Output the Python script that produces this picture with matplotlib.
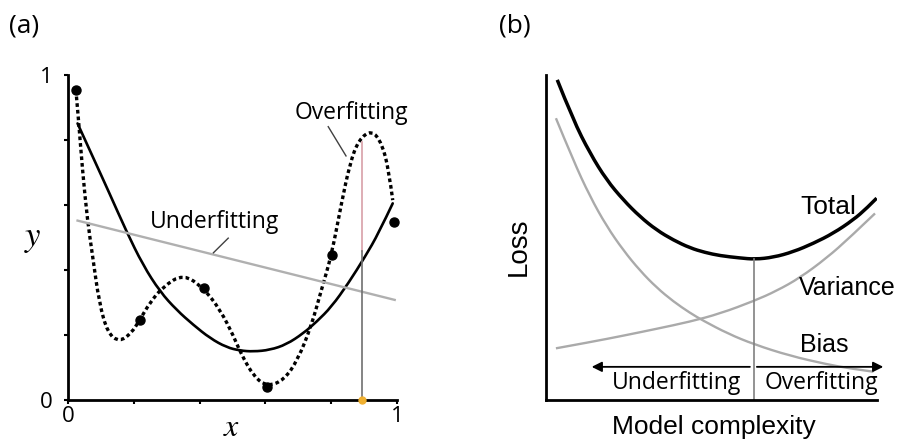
import numpy as np
import matplotlib
matplotlib.use('Agg')
import matplotlib.pyplot as plt
from matplotlib.path import Path
from matplotlib.patches import PathPatch

plt.rcParams['mathtext.fontset'] = 'stix'

# (a) sample points and the three fitted curves
pts_x = [0.024, 0.218, 0.412, 0.606, 0.801, 0.990]
pts_y = [0.954, 0.246, 0.344, 0.041, 0.446, 0.549]

under_x = [0.029, 0.993]
under_y = [0.552, 0.308]

good_x = [0.029, 0.075, 0.126, 0.177, 0.228, 0.280, 0.330, 0.381, 0.432, 0.482,
          0.523, 0.563, 0.614, 0.664, 0.715, 0.756, 0.801, 0.852, 0.903, 0.944, 0.987]
good_y = [0.851, 0.749, 0.636, 0.520, 0.415, 0.333, 0.277, 0.231, 0.190, 0.162,
          0.152, 0.149, 0.154, 0.171, 0.205, 0.241, 0.287, 0.359, 0.441, 0.513, 0.605]

over_x = [0.024, 0.032, 0.044, 0.059, 0.075, 0.095, 0.121, 0.156, 0.192, 0.218,
          0.248, 0.289, 0.351, 0.412, 0.463, 0.504, 0.525, 0.565, 0.606, 0.657,
          0.698, 0.739, 0.770, 0.801, 0.831, 0.857, 0.883, 0.923, 0.954, 0.975, 0.987]
over_y = [0.954, 0.862, 0.708, 0.554, 0.441, 0.298, 0.205, 0.179, 0.205, 0.246,
          0.298, 0.349, 0.388, 0.344, 0.277, 0.195, 0.144, 0.072, 0.041, 0.062,
          0.123, 0.226, 0.338, 0.446, 0.605, 0.728, 0.800, 0.831, 0.790, 0.708, 0.615]

x_query = 0.894
y_query_over = 0.795
y_query_good = 0.460

# (b) loss versus model complexity
cx_total = [0.034, 0.082, 0.133, 0.183, 0.234, 0.284, 0.334, 0.385, 0.435, 0.480,
            0.526, 0.586, 0.631, 0.687, 0.747, 0.808, 0.868, 0.928, 0.969, 0.999]
total = [0.985, 0.862, 0.759, 0.677, 0.615, 0.564, 0.523, 0.492, 0.468, 0.454,
         0.444, 0.437, 0.433, 0.439, 0.456, 0.482, 0.513, 0.554, 0.590, 0.621]

cx_bias = [0.030, 0.082, 0.133, 0.183, 0.234, 0.284, 0.334, 0.385, 0.435, 0.475,
           0.550, 0.629, 0.737, 0.848, 0.918, 0.989]
bias = [0.867, 0.738, 0.626, 0.535, 0.460, 0.398, 0.346, 0.303, 0.268, 0.244,
        0.204, 0.171, 0.136, 0.110, 0.097, 0.087]

cx_var = [0.030, 0.133, 0.234, 0.334, 0.435, 0.526, 0.629, 0.697, 0.767, 0.848,
          0.918, 0.994]
variance = [0.159, 0.178, 0.198, 0.219, 0.241, 0.266, 0.305, 0.336, 0.376, 0.437,
            0.500, 0.574]

best_x = 0.628
best_loss = 0.433

W, H = 900, 443
fig = plt.figure(figsize=(W / 100, H / 100), dpi=100)


def px_axes(x0, y0, x1, y1):
    return fig.add_axes([x0 / W, 1 - y1 / H, (x1 - x0) / W, (y1 - y0) / H])


def smooth_line(ax, xs, ys, **kw):
    # quadratic bezier through the midpoints, the listed points act as control points
    xs, ys = np.asarray(xs), np.asarray(ys)
    verts = [(xs[0], ys[0])]
    codes = [Path.MOVETO]
    for i in range(1, len(xs) - 1):
        mx, my = (xs[i] + xs[i + 1]) / 2, (ys[i] + ys[i + 1]) / 2
        if i == len(xs) - 2:
            mx, my = xs[-1], ys[-1]
        verts += [(xs[i], ys[i]), (mx, my)]
        codes += [Path.CURVE3, Path.CURVE3]
    patch = PathPatch(Path(verts, codes), fill=False, **kw)
    ax.add_patch(patch)
    return patch


label_font = 'Open Sans'
sans = 'Liberation Sans'

# ---- panel (a) ----
ax = px_axes(68, 75, 397, 400)
ax.set_xlim(0, 1)
ax.set_ylim(0, 1)
for s in ['top', 'right']:
    ax.spines[s].set_visible(False)
for s in ['left', 'bottom']:
    ax.spines[s].set_linewidth(2.0)
ax.set_xticks([0, 0.2, 0.4, 0.6, 0.8, 1])
ax.set_yticks([0, 0.2, 0.4, 0.6, 0.8, 1])
ax.set_xticklabels(['0', '', '', '', '', '1'], fontfamily=label_font, fontsize=16)
ax.set_yticklabels(['0', '', '', '', '', '1'], fontfamily=label_font, fontsize=16)
ax.tick_params(axis='both', length=3, width=1.5, direction='out')
ax.tick_params(axis='x', pad=1)
ax.tick_params(axis='y', pad=8)

ax.plot(under_x, under_y, color='#b0b0b0', lw=1.7)
smooth_line(ax, good_x, good_y, edgecolor='black', lw=1.9, capstyle='round')
smooth_line(ax, over_x, over_y, edgecolor='black', lw=2.4, linestyle=(0, (1.1, 0.9)))
ax.plot(pts_x, pts_y, 'o', color='black', ms=6.5, clip_on=False, zorder=4)

ax.plot([x_query, x_query], [y_query_good, y_query_over], color='#d8a0a8', lw=1.2)
ax.plot([x_query, x_query], [0, y_query_good], color='#707070', lw=1.2)
ax.plot([x_query], [0], 'o', color='#f0b030', ms=5, clip_on=False, zorder=5)

ax.text(0.445, 0.549, 'Underfitting', fontfamily=label_font, fontsize=16.5,
        ha='center', va='center')
ax.plot([0.487, 0.442], [0.498, 0.453], color='#404040', lw=1.0)
ax.text(0.862, 0.882, 'Overfitting', fontfamily=label_font, fontsize=16.5,
        ha='center', va='center')
ax.plot([0.791, 0.845], [0.841, 0.751], color='#404040', lw=1.0)

fig.text(24 / W, 1 - 26 / H, '(a)', fontfamily=label_font, fontsize=19,
         ha='center', va='center')
fig.text(33 / W, 1 - 238 / H, '$y$', fontsize=25, ha='center', va='center')
fig.text(232 / W, 1 - 428 / H, '$x$', fontsize=23, ha='center', va='center')

# ---- panel (b) ----
bx = px_axes(546, 75, 877, 400)
bx.set_xlim(0, 1)
bx.set_ylim(0, 1)
for s in ['top', 'right']:
    bx.spines[s].set_visible(False)
for s in ['left', 'bottom']:
    bx.spines[s].set_linewidth(2.0)
bx.set_xticks([])
bx.set_yticks([])

smooth_line(bx, cx_bias, bias, edgecolor='#aaaaaa', lw=1.7)
smooth_line(bx, cx_var, variance, edgecolor='#aaaaaa', lw=1.7)
smooth_line(bx, cx_total, total, edgecolor='black', lw=2.5)
bx.plot([best_x, best_x], [0, best_loss], color='#808080', lw=1.2)

arrow_style = dict(arrowstyle='-|>', color='black', lw=1.3,
                   mutation_scale=15, shrinkA=0, shrinkB=0)
bx.annotate('', xy=(0.138, 0.102), xytext=(0.616, 0.102), arrowprops=arrow_style,
            annotation_clip=False)
bx.annotate('', xy=(1.019, 0.102), xytext=(0.637, 0.102), arrowprops=arrow_style,
            annotation_clip=False)

bx.text(0.393, 0.051, 'Underfitting', fontfamily=label_font, fontsize=16.5,
        ha='center', va='center')
bx.text(0.833, 0.051, 'Overfitting', fontfamily=label_font, fontsize=16.5,
        ha='center', va='center')

bx.text(0.853, 0.595, 'Total', fontfamily=sans, fontsize=19, ha='center', va='center')
bx.text(0.911, 0.344, 'Variance', fontfamily=sans, fontsize=18, ha='center', va='center',
        clip_on=False)
bx.text(0.840, 0.169, 'Bias', fontfamily=sans, fontsize=18, ha='center', va='center')

fig.text(519 / W, 1 - 247 / H, 'Loss', fontfamily=sans, fontsize=20, rotation=90,
         ha='center', va='center')
fig.text(714 / W, 1 - 427 / H, 'Model complexity', fontfamily=sans, fontsize=19,
         ha='center', va='center')
fig.text(515 / W, 1 - 26 / H, '(b)', fontfamily=label_font, fontsize=19,
         ha='center', va='center')

fig.savefig('out.png', dpi=100)
